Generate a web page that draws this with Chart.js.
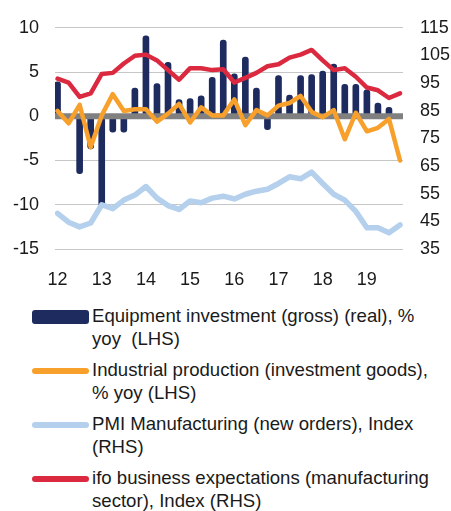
<!DOCTYPE html>
<html>
<head>
<meta charset="utf-8">
<script src="https://cdn.jsdelivr.net/npm/chart.js@4/dist/chart.umd.min.js"></script>
<style>
  body { margin: 0; background: #fff; font-family: "Liberation Sans", Arial, sans-serif; color: #1a1a1a; }
  #wrap { position: relative; width: 451px; height: 511px; overflow: hidden; }
  #grafico { position: absolute; left: 0; top: 0; }
  #legenda { position: absolute; left: 0; top: 304px; width: 451px; }
  .item { position: relative; height: 46px; margin-bottom: 8px; }
  .amostra { position: absolute; left: 32px; width: 57px; border-radius: 3px; }
  .texto { position: absolute; left: 92px; top: 0; font-size: 18.6px; line-height: 23px; white-space: pre; }
</style>
</head>
<body>
<div id="wrap">
  <canvas id="grafico" width="451" height="290"></canvas>
  <div id="legenda"></div>
</div>
<script>
// quarters from 2012 Q1 to 2019 Q4, one year label every 4 quarters
const anos = ["12", "13", "14", "15", "16", "17", "18", "19"];

const nomes = [
  "Equipment investment (gross) (real), %\nyoy  (LHS)",
  "Industrial production (investment goods),\n% yoy (LHS)",
  "PMI Manufacturing (new orders), Index\n(RHS)",
  "ifo business expectations (manufacturing\nsector), Index (RHS)"
];

// LHS, % yoy
const equipamento = [3.9, -0.3, -6.5, -3.7, -10.2, -1.8, -1.8, 3.2, 9.1, 3.7, 6.1, 1.9, 2.0, 2.3, 4.4, 8.6,
  4.8, 6.7, 3.2, -1.5, 4.6, 2.4, 4.6, 4.7, 5.1, 5.9, 3.6, 3.6, 3.0, 1.5, 1.0];
const producao = [0.6, -0.8, 1.3, -3.5, 0.1, 2.5, 0.6, 0.8, 0.8, -0.6, 0.3, 1.4, -0.7, 1.0, 0.1, 0.1,
  1.9, -1.0, 0.7, 0.1, 1.2, 1.5, 2.3, 0.5, -0.1, 0.7, -2.6, 0.4, -1.7, -1.3, -0.3, -5.0];

// RHS, index
const pmi = [47.9, 44.7, 43.0, 44.4, 51.0, 49.6, 52.7, 54.5, 57.6, 53.4, 50.7, 49.3, 52.4, 51.7, 53.4, 54.1,
  53.1, 54.8, 55.9, 56.6, 58.7, 61.1, 60.4, 62.8, 58.7, 54.8, 52.7, 48.6, 42.7, 42.7, 40.9, 43.7];
const ifo = [96.6, 95.2, 90.0, 91.3, 98.3, 98.7, 102.1, 104.9, 105.3, 103.2, 99.7, 96.2, 100.4, 100.4, 99.7, 100.0,
  95.2, 96.9, 98.7, 101.1, 101.8, 104.2, 105.3, 107.0, 103.2, 99.7, 100.4, 97.3, 93.4, 92.4, 89.6, 91.3];

const cores = ["#1e2b5e", "#f7a02c", "#b4d0ed", "#db2a40"];

const pontos = arr => arr.map((v, i) => ({ x: i, y: v }));

// linha do zero por cima das barras, por baixo das linhas
const linhaZero = {
  id: "linhaZero",
  afterDatasetDraw(chart, args) {
    if (args.index !== 0) return;
    const { ctx, chartArea } = chart;
    const y = chart.scales.y.getPixelForValue(0);
    ctx.save();
    ctx.strokeStyle = "#808080";
    ctx.lineWidth = 6;
    ctx.beginPath();
    ctx.moveTo(chartArea.left, y);
    ctx.lineTo(chartArea.right, y);
    ctx.stroke();
    ctx.restore();
  }
};

const fonte = { family: "'Liberation Sans', Arial, sans-serif", size: 18 };

const chart = new Chart(document.getElementById("grafico"), {
  type: "bar",
  data: {
    datasets: [
      {
        type: "bar",
        label: nomes[0],
        data: pontos(equipamento),
        backgroundColor: cores[0],
        barThickness: 6,
        borderRadius: 3,
        borderSkipped: false,
        yAxisID: "y",
        order: 4
      },
      {
        type: "line",
        label: nomes[1],
        data: pontos(producao),
        borderColor: cores[1],
        borderWidth: 4.5,
        pointRadius: 0,
        tension: 0,
        borderJoinStyle: "round",
        borderCapStyle: "round",
        yAxisID: "y",
        order: 1
      },
      {
        type: "line",
        label: nomes[2],
        data: pontos(pmi),
        borderColor: cores[2],
        borderWidth: 5.5,
        pointRadius: 0,
        tension: 0,
        borderJoinStyle: "round",
        borderCapStyle: "round",
        yAxisID: "y2",
        order: 3
      },
      {
        type: "line",
        label: nomes[3],
        data: pontos(ifo),
        borderColor: cores[3],
        borderWidth: 4.5,
        pointRadius: 0,
        tension: 0,
        borderJoinStyle: "round",
        borderCapStyle: "round",
        yAxisID: "y2",
        order: 2
      }
    ]
  },
  options: {
    responsive: false,
    animation: false,
    devicePixelRatio: 1,
    layout: { padding: { top: 19, left: 0, right: 0, bottom: 0 } },
    plugins: {
      legend: { display: false },
      tooltip: { enabled: false }
    },
    scales: {
      x: {
        type: "linear",
        offset: false,
        min: -0.23,
        max: 31.27,
        grid: { display: false, offset: false },
        border: { display: false },
        afterBuildTicks: scale => {
          scale.ticks = anos.map((a, i) => ({ value: i * 4 }));
        },
        afterFit: scale => { scale.height = 41; },
        ticks: {
          font: fonte,
          color: "#1a1a1a",
          padding: 12,
          maxRotation: 0,
          autoSkip: false,
          callback: v => anos[v / 4]
        }
      },
      y: {
        position: "left",
        min: -15,
        max: 10,
        grid: {
          drawTicks: false,
          lineWidth: 1,
          color: c => (c.tick.value === 0 ? "rgba(0,0,0,0)" : "#c6c6c6")
        },
        border: { display: false },
        afterFit: scale => { scale.width = 55; },
        ticks: { stepSize: 5, font: fonte, color: "#1a1a1a", padding: 16 }
      },
      y2: {
        position: "right",
        min: 35,
        max: 115,
        grid: { display: false, drawTicks: false },
        border: { display: false },
        afterFit: scale => { scale.width = 48; },
        ticks: { stepSize: 10, font: fonte, color: "#1a1a1a", padding: 17 }
      }
    }
  },
  plugins: [linhaZero]
});

// legenda em HTML, a partir dos datasets
const legenda = document.getElementById("legenda");
chart.data.datasets.forEach(ds => {
  const item = document.createElement("div");
  item.className = "item";
  const amostra = document.createElement("div");
  amostra.className = "amostra";
  const ehBarra = ds.type === "bar";
  amostra.style.background = ehBarra ? ds.backgroundColor : ds.borderColor;
  amostra.style.height = ehBarra ? "14px" : "6px";
  amostra.style.top = ehBarra ? "6px" : "10px";
  const texto = document.createElement("div");
  texto.className = "texto";
  texto.textContent = ds.label;
  item.appendChild(amostra);
  item.appendChild(texto);
  legenda.appendChild(item);
});
</script>
</body>
</html>
